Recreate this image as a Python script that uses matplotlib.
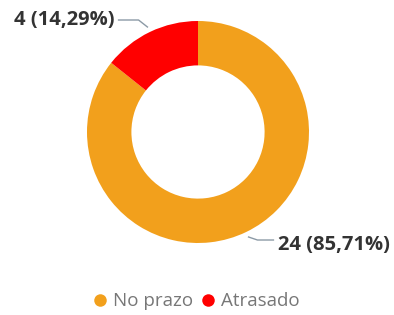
import matplotlib.pyplot as plt
import numpy as np

# data
categories = ["No prazo", "Atrasado"]
values = [24, 4]
colors = ["#F2A01C", "#FF0000"]


def main():
    plt.rcParams["font.family"] = ["Open Sans", "DejaVu Sans"]

    fig = plt.figure(figsize=(3.94, 3.15), dpi=100)
    # donut area, centred at (198, 132) px with radius 111 px
    ax = fig.add_axes([87 / 394, (315 - 243) / 315, 222 / 394, 222 / 315])

    wedges, _ = ax.pie(values, colors=colors, startangle=90, counterclock=False,
                       radius=1.0, wedgeprops=dict(width=0.4, edgecolor="none"))
    ax.set_xlim(-1, 1)
    ax.set_ylim(-1, 1)
    ax.set_aspect("equal")
    ax.axis("off")

    # leader line layout per label: (elbow rise, horizontal length, text drop)
    layout = [(0.027, 0.144, 0.045), (0.063, 0.18, 0.0)]

    total = sum(values)
    for w, v, (rise, hlen, drop) in zip(wedges, values, layout):
        ang = np.deg2rad((w.theta1 + w.theta2) / 2)
        x0, y0 = 1.05 * np.cos(ang), 1.05 * np.sin(ang)
        side = np.sign(x0)
        y1 = y0 + np.sign(y0) * rise
        x1 = x0 + side * 0.08
        x2 = x1 + side * hlen
        ax.plot([x0, x1, x2], [y0, y1, y1], color="#8C9AA6", lw=1.0, clip_on=False)
        txt = f"{v} ({v / total * 100:.2f}%)".replace(".", ",")
        ax.text(x2 + side * 0.04, y1 - drop, txt, ha="left" if side > 0 else "right",
                va="center", fontsize=14.5, fontweight="bold", color="#333333")

    handles = [plt.Line2D([], [], marker="o", ls="none", markersize=9,
                          markerfacecolor=c, markeredgecolor="none") for c in colors]
    fig.legend(handles, categories, loc="center", bbox_to_anchor=(196 / 394, 0.044),
               ncol=2, frameon=False, fontsize=13.5, labelcolor="#777777",
               handletextpad=0.3, columnspacing=0.4, handlelength=0.8,
               borderaxespad=0, borderpad=0)


if __name__ == "__main__":
    main()
    plt.savefig("out.png", dpi=100)
